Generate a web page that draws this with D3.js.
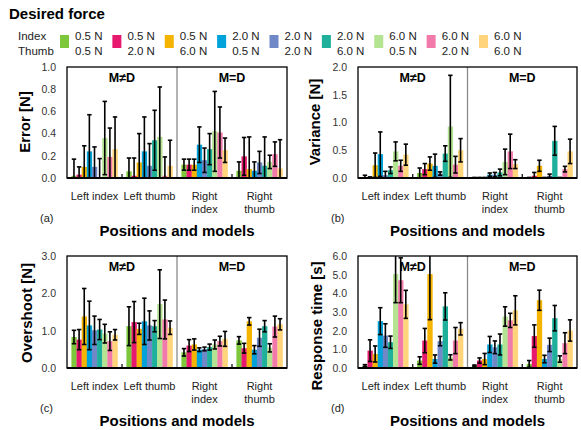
<!DOCTYPE html>
<html>
<head>
<meta charset="utf-8">
<script src="https://cdn.jsdelivr.net/npm/d3@7"></script>
<style>
  body { margin: 0; background: #fff; }
  text { font-family: "Liberation Sans", Arial, sans-serif; }
</style>
</head>
<body>
<div id="chart"></div>
<script>
const groups = ["Left index", "Left thumb", "Right index", "Right thumb"]
const indexForce = ["0.5 N", "0.5 N", "0.5 N", "2.0 N", "2.0 N", "2.0 N", "6.0 N", "6.0 N", "6.0 N"]
const thumbForce = ["0.5 N", "2.0 N", "6.0 N", "0.5 N", "2.0 N", "6.0 N", "0.5 N", "2.0 N", "6.0 N"]
const colors = ["#7cc73a", "#e6196e", "#f5b400", "#00a3d9", "#7088c8", "#1eb09a", "#b4e391", "#f27aab", "#ffd47a"]

// mean and sd per group (rows) and force condition (columns)
const errorMean = [
    [0.02, 0.03, 0.10, 0.24, 0.10, 0.005, 0.36, 0.19, 0.26],
    [0.06, 0.02, 0.14, 0.24, 0.11, 0.34, 0.37, 0.02, 0.11],
    [0.12, 0.12, 0.12, 0.30, 0.16, 0.26, 0.42, 0.41, 0.25],
    [0.065, 0.195, 0.08, 0.065, 0.14, 0.11, 0.145, 0.215, 0.085]
]
const errorSd = [
    [0.15, 0.07, 0.19, 0.33, 0.18, 0.17, 0.33, 0.26, 0.29],
    [0.12, 0.16, 0.26, 0.31, 0.20, 0.27, 0.45, 0.17, 0.23],
    [0.05, 0.05, 0.05, 0.16, 0.11, 0.14, 0.36, 0.23, 0.11],
    [0.08, 0.17, 0.29, 0.08, 0.10, 0.26, 0.06, 0.11, 0.26]
]
const varianceMean = [
    [0.02, 0.01, 0.23, 0.43, 0.05, 0.14, 0.48, 0.22, 0.42],
    [0.09, 0.16, 0.26, 0.22, 0.08, 0.44, 0.93, 0.24, 0.50],
    [0.005, 0.005, 0.005, 0.06, 0.06, 0.10, 0.29, 0.48, 0.25],
    [0.005, 0.04, 0.22, 0.005, 0.04, 0.67, 0.005, 0.16, 0.48]
]
const varianceSd = [
    [0.03, 0.01, 0.22, 0.40, 0.07, 0.06, 0.17, 0.10, 0.19],
    [0.09, 0.10, 0.12, 0.21, 0.03, 0.14, 0.92, 0.15, 0.21],
    [0.005, 0.005, 0.005, 0.03, 0.04, 0.06, 0.23, 0.31, 0.08],
    [0.005, 0.06, 0.10, 0.005, 0.03, 0.26, 0.005, 0.05, 0.22]
]
const overshootMean = [
    [0.83, 0.76, 1.38, 1.14, 1.01, 1.03, 0.92, 0.72, 0.89],
    [1.12, 1.23, 1.05, 1.25, 1.14, 1.12, 1.71, 1.30, 1.08],
    [0.42, 0.60, 0.63, 0.49, 0.51, 0.56, 0.63, 0.72, 0.78],
    [0.74, 0.53, 1.25, 0.49, 0.81, 1.12, 0.54, 1.11, 1.17]
]
const overshootSd = [
    [0.18, 0.27, 0.75, 0.65, 0.38, 0.27, 0.25, 0.25, 0.14],
    [0.52, 0.55, 0.15, 0.62, 0.39, 0.15, 0.92, 0.52, 0.18],
    [0.10, 0.16, 0.15, 0.05, 0.05, 0.08, 0.12, 0.13, 0.20],
    [0.10, 0.13, 0.10, 0.11, 0.23, 0.15, 0.11, 0.28, 0.15]
]
const responseMean = [
    [0.13, 0.93, 0.75, 2.51, 1.74, 1.38, 5.03, 4.70, 3.41],
    [0.40, 1.47, 5.03, 0.48, 1.44, 3.30, 0.57, 1.47, 2.10],
    [0.13, 0.40, 0.48, 1.26, 1.11, 1.26, 2.76, 2.55, 3.09],
    [0.22, 1.71, 3.63, 0.48, 1.24, 2.67, 0.48, 1.33, 2.01]
]
const responseSd = [
    [0.05, 0.58, 0.43, 0.72, 0.63, 0.33, 1.53, 1.20, 0.75],
    [0.20, 0.65, 2.44, 0.22, 0.25, 0.73, 0.14, 0.70, 0.33],
    [0.03, 0.14, 0.30, 0.43, 0.34, 0.56, 0.52, 0.38, 0.78],
    [0.18, 0.60, 0.54, 0.20, 0.36, 0.68, 0.17, 0.56, 0.57]
]

const panels = [
    { id: "a", title: "Error [N]", mean: errorMean, sd: errorSd, max: 1.0, step: 0.2, x0: 67, x1: 287, y0: 67, y1: 178, titleX: 25, titleY: 122 },
    { id: "b", title: "Variance [N]", mean: varianceMean, sd: varianceSd, max: 2.0, step: 0.5, x0: 358, x1: 577, y0: 67, y1: 178, titleX: 315, titleY: 122 },
    { id: "c", title: "Overshoot [N]", mean: overshootMean, sd: overshootSd, max: 3.0, step: 1.0, x0: 67, x1: 287, y0: 256, y1: 368, titleX: 27, titleY: 313 },
    { id: "d", title: "Response time [s]", mean: responseMean, sd: responseSd, max: 6.0, step: 1.0, x0: 358, x1: 577, y0: 256, y1: 368, titleX: 317, titleY: 326 }
]

const svg = d3.select("#chart")
    .append("svg")
    .attr("width", 581)
    .attr("height", 430)

// legend
svg.append("text")
    .attr("x", 9).attr("y", 19)
    .style("font-size", "15px").style("font-weight", "bold")
    .text("Desired force")
svg.append("text").attr("x", 18).attr("y", 40).style("font-size", "11.5px").attr("fill", "#222").text("Index")
svg.append("text").attr("x", 18).attr("y", 55).style("font-size", "11.5px").attr("fill", "#222").text("Thumb")

const legendX = d3.scalePoint().domain(d3.range(9)).range([60, 479])
const legend = svg.append("g")
    .selectAll("g")
    .data(d3.range(9))
    .join("g")
    .attr("transform", i => "translate(" + legendX(i) + ",0)")
legend.append("rect")
    .attr("y", 35).attr("width", 9).attr("height", 13)
    .attr("fill", i => colors[i])
legend.append("text")
    .attr("x", 15).attr("y", 40)
    .style("font-size", "11.5px").attr("fill", "#222")
    .text(i => indexForce[i])
legend.append("text")
    .attr("x", 15).attr("y", 55)
    .style("font-size", "11.5px").attr("fill", "#222")
    .text(i => thumbForce[i])

const drawPanel = (p) => {
    const g = svg.append("g")
    const x = d3.scaleBand()
        .domain(groups)
        .range([p.x0, p.x1])
        .paddingInner(0.16)
        .paddingOuter(0.08)
    const xb = d3.scaleBand()
        .domain(d3.range(9))
        .range([0, x.bandwidth()])
    const y = d3.scaleLinear()
        .domain([0, p.max])
        .range([p.y1, p.y0])

    const clipId = "clip-" + p.id
    svg.append("clipPath").attr("id", clipId)
        .append("rect")
        .attr("x", p.x0).attr("y", p.y0)
        .attr("width", p.x1 - p.x0).attr("height", p.y1 - p.y0)

    // y axis labels
    const yAxis = g.append("g")
        .attr("transform", "translate(" + p.x0 + ",0)")
        .call(d3.axisLeft(y)
            .tickValues(d3.range(0, p.max + 1e-9, p.step))
            .tickSize(0)
            .tickPadding(11)
            .tickFormat(d3.format(".1f")))
    yAxis.select(".domain").remove()
    yAxis.selectAll("text")
        .style("font-size", "10.5px")
        .style("font-family", "Liberation Sans, Arial, sans-serif")
        .attr("fill", "#333")

    // model annotations
    const mid = (p.x0 + p.x1) / 2
    g.append("text")
        .attr("x", (p.x0 + mid) / 2).attr("y", p.y0 + 15)
        .attr("text-anchor", "middle")
        .style("font-size", "12.5px").style("font-weight", "bold")
        .text("M≠D")
    g.append("text")
        .attr("x", (mid + p.x1) / 2).attr("y", p.y0 + 15)
        .attr("text-anchor", "middle")
        .style("font-size", "12.5px").style("font-weight", "bold")
        .text("M=D")

    const cells = []
    groups.forEach((grp, gi) => {
        d3.range(9).forEach(ci => {
            cells.push({ group: grp, c: ci, mean: p.mean[gi][ci], sd: p.sd[gi][ci] })
        })
    })

    const plot = g.append("g").attr("clip-path", "url(#" + clipId + ")")
    plot.selectAll("rect.bar")
        .data(cells)
        .join("rect")
        .attr("class", "bar")
        .attr("x", d => x(d.group) + xb(d.c))
        .attr("width", xb.bandwidth() + 0.2)
        .attr("y", d => y(d.mean))
        .attr("height", d => y(0) - y(d.mean))
        .attr("fill", d => colors[d.c])

    // divider between models
    g.append("line")
        .attr("x1", mid).attr("x2", mid)
        .attr("y1", p.y0).attr("y2", p.y1)
        .attr("stroke", "#8a8a8a").attr("stroke-width", 1.3)

    // error bars
    const cx = d => x(d.group) + xb(d.c) + xb.bandwidth() / 2
    const eb = plot.selectAll("g.err")
        .data(cells)
        .join("g")
        .attr("class", "err")
        .attr("stroke", "#000")
        .attr("stroke-width", 1.6)
    eb.append("line")
        .attr("x1", cx).attr("x2", cx)
        .attr("y1", d => y(Math.max(0, d.mean - d.sd)))
        .attr("y2", d => y(d.mean + d.sd))
    eb.append("line")
        .attr("x1", d => cx(d) - 2.2).attr("x2", d => cx(d) + 2.2)
        .attr("y1", d => y(d.mean + d.sd)).attr("y2", d => y(d.mean + d.sd))
    eb.filter(d => d.mean - d.sd > 0).append("line")
        .attr("x1", d => cx(d) - 2.2).attr("x2", d => cx(d) + 2.2)
        .attr("y1", d => y(d.mean - d.sd)).attr("y2", d => y(d.mean - d.sd))

    // frame
    g.append("rect")
        .attr("x", p.x0).attr("y", p.y0)
        .attr("width", p.x1 - p.x0).attr("height", p.y1 - p.y0)
        .attr("fill", "none").attr("stroke", "#000").attr("stroke-width", 1.3)
    g.append("line")
        .attr("x1", p.x0).attr("x2", p.x1)
        .attr("y1", p.y1).attr("y2", p.y1)
        .attr("stroke", "#000").attr("stroke-width", 2)

    // small separators between positions
    const sep = [1, 3].map(i => x(groups[i]) - x.step() * x.paddingInner() / 2)
    g.selectAll("line.sep")
        .data(sep)
        .join("line")
        .attr("class", "sep")
        .attr("x1", d => d).attr("x2", d => d)
        .attr("y1", p.y1).attr("y2", p.y1 - 4)
        .attr("stroke", "#000").attr("stroke-width", 1.2)

    // group labels
    g.selectAll("text.grp")
        .data(groups)
        .join("text")
        .attr("class", "grp")
        .attr("text-anchor", "middle")
        .style("font-size", "11px")
        .attr("fill", "#222")
        .each(function (d, i) {
            const lines = i < 2 ? [d] : d.split(" ")
            d3.select(this).selectAll("tspan")
                .data(lines)
                .join("tspan")
                .attr("x", x(d) + x.bandwidth() / 2)
                .attr("y", (l, j) => p.y1 + 22 + j * 13)
                .text(l => l)
        })

    // axis titles
    g.append("text")
        .attr("transform", "translate(" + (p.titleX + 5) + "," + p.titleY + ") rotate(-90)")
        .attr("text-anchor", "middle")
        .style("font-size", "15px").style("font-weight", "bold")
        .text(p.title)
    g.append("text")
        .attr("x", (p.x0 + p.x1) / 2).attr("y", p.y1 + 58)
        .attr("text-anchor", "middle")
        .style("font-size", "15px").style("font-weight", "bold")
        .text("Positions and models")
    g.append("text")
        .attr("x", p.x0 - 27).attr("y", p.y1 + 44)
        .style("font-size", "11px").attr("fill", "#222")
        .text("(" + p.id + ")")
}

panels.forEach(drawPanel)
</script>
</body>
</html>
